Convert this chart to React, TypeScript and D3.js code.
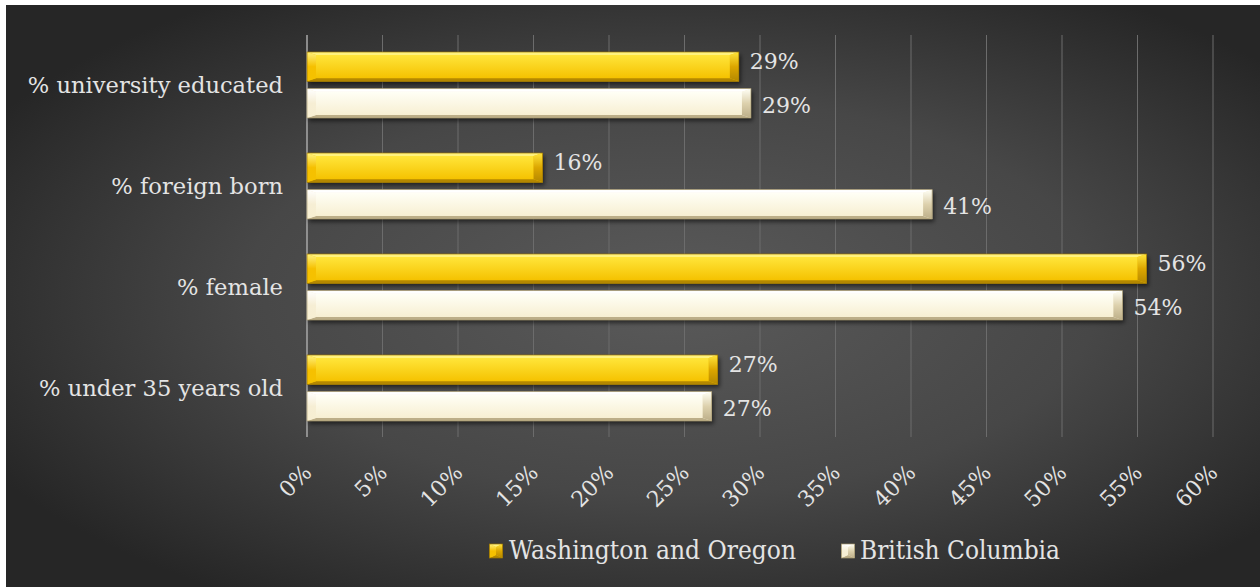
import React from "react";
import * as d3 from "d3";

const categories = ["% university educated", "% foreign born", "% female", "% under 35 years old"];
const waOr = [0.286, 0.156, 0.556, 0.272];
const bc = [0.294, 0.414, 0.54, 0.268];
const seriesNames = ["Washington and Oregon", "British Columbia"];
const xTicks = [0, 0.05, 0.1, 0.15, 0.2, 0.25, 0.3, 0.35, 0.4, 0.45, 0.5, 0.55, 0.6];

const W = 1260, H = 587;
const FONT = "'DejaVu Serif', Georgia, serif";

const palettes = [
  { top: "#fff27e", faceA: "#ffe53a", faceB: "#f5c200", bottom: "#b48800", left: "#f6c000", right: "#dca600", stroke: "#9c7600" },
  { top: "#ffffff", faceA: "#fffff6", faceB: "#f7efd2", bottom: "#bcae88", left: "#f6eed4", right: "#ddd1ad", stroke: "#a89a70" },
];

function BevelBar({ x0, x1, y0, y1, p, id, shadow = true }: any) {
  const bs = Math.min(9, (x1 - x0) / 2), bt = 3;
  const top = `M${x0},${y0}L${x1},${y0}L${x1 - bs},${y0 + bt}L${x0 + bs},${y0 + bt}Z`;
  const bot = `M${x0},${y1}L${x1},${y1}L${x1 - bs},${y1 - bt}L${x0 + bs},${y1 - bt}Z`;
  const left = `M${x0},${y0}L${x0 + bs},${y0 + bt}L${x0 + bs},${y1 - bt}L${x0},${y1}Z`;
  const right = `M${x1},${y0}L${x1 - bs},${y0 + bt}L${x1 - bs},${y1 - bt}L${x1},${y1}Z`;
  return (
    <g>
      <rect x={x0} y={y0} width={x1 - x0} height={y1 - y0} fill={p.faceB} filter={shadow ? "url(#shadow)" : undefined} />
      <rect x={x0 + bs} y={y0 + bt} width={x1 - x0 - 2 * bs} height={y1 - y0 - 2 * bt} fill={`url(#face${id})`} />
      <path d={top} fill={p.top} />
      <path d={bot} fill={p.bottom} />
      <path d={left} fill={`url(#left${id})`} />
      <path d={right} fill={`url(#right${id})`} />
      <rect x={x0} y={y0} width={x1 - x0} height={y1 - y0} fill="none" stroke={p.stroke} strokeWidth={0.7} />
    </g>
  );
}

export default function App() {
  const x = d3.scaleLinear().domain([0, 0.6]).range([307, 1213]);
  const y = d3.scaleBand<string>().domain(categories).range([34.5, 438.5]).padding(0);
  const inner = d3.scaleBand<number>().domain([0, 1]).range([-33, 33]).paddingInner(0.2);
  const fmt = d3.format(".0%");
  const series = [waOr, bc];
  const labelShift = [-5, 2];
  const plotTop = 35, plotBottom = 437;

  return (
    <div>
      <style>{"body{margin:0;}"}</style>
      <svg width={W} height={H} style={{ display: "block" }}>
        <defs>
          <radialGradient id="bg" cx="0.53" cy="0.5" r="0.62">
            <stop offset="0" stopColor="#5a5a5a" />
            <stop offset="0.55" stopColor="#474747" />
            <stop offset="1" stopColor="#262626" />
          </radialGradient>
          {palettes.map((p, i) => (
            <React.Fragment key={i}>
              <linearGradient id={`face${i}`} x1="0" y1="0" x2="0" y2="1">
                <stop offset="0" stopColor={p.faceA} />
                <stop offset="1" stopColor={p.faceB} />
              </linearGradient>
              <linearGradient id={`left${i}`} x1="0" y1="0" x2="0" y2="1">
                <stop offset="0" stopColor={p.top} />
                <stop offset="0.5" stopColor={p.left} />
                <stop offset="1" stopColor={p.faceB} />
              </linearGradient>
              <linearGradient id={`right${i}`} x1="0" y1="0" x2="0" y2="1">
                <stop offset="0" stopColor={p.faceA} />
                <stop offset="0.5" stopColor={p.right} />
                <stop offset="1" stopColor={p.bottom} />
              </linearGradient>
            </React.Fragment>
          ))}
          <filter id="shadow" x="-5%" y="-30%" width="110%" height="180%">
            <feDropShadow dx="2" dy="3" stdDeviation="2" floodColor="#000" floodOpacity="0.55" />
          </filter>
        </defs>
        <rect x={0} y={0} width={W} height={H} fill="#ffffff" />
        <rect x={6} y={5} width={W - 6} height={H - 5} fill="url(#bg)" />

        {xTicks.map((t, i) => (
          <line key={i} x1={x(t)} x2={x(t)} y1={plotTop} y2={plotBottom} stroke="#6c6c6c" strokeWidth={1} />
        ))}
        <line x1={x(0)} x2={x(0)} y1={plotTop} y2={plotBottom} stroke="#b4b4b4" strokeWidth={1.2} />

        {categories.map((c, ci) => {
          const cy = (y(c) as number) + y.bandwidth() / 2;
          return (
            <g key={c}>
              <text x={283} y={cy} textAnchor="end" dominantBaseline="central" fill="#e4e4e4" fontFamily={FONT} fontSize={22.6}>
                {c}
              </text>
              {series.map((s, si) => {
                const y0 = cy + (inner(si) as number);
                const y1 = y0 + inner.bandwidth();
                return (
                  <g key={si}>
                    <BevelBar x0={x(0)} x1={x(s[ci])} y0={y0} y1={y1} p={palettes[si]} id={si} />
                    <text x={x(s[ci]) + 11} y={(y0 + y1) / 2 + labelShift[si]} dominantBaseline="central" fill="#e4e4e4" fontFamily={FONT} fontSize={22}>
                      {fmt(s[ci])}
                    </text>
                  </g>
                );
              })}
            </g>
          );
        })}

        {xTicks.map((t, i) => (
          <text key={i} transform={`translate(${x(t) + 6},${474}) rotate(-45)`} textAnchor="end" fill="#e4e4e4" fontFamily={FONT} fontSize={22}>
            {fmt(t)}
          </text>
        ))}

        {/* legend */}
        {[
          { mx: 489.5, tx: 509, tw: 287 },
          { mx: 841.5, tx: 860, tw: 200 },
        ].map((l, i) => {
          const p = palettes[i];
          return (
            <g key={i}>
              <BevelBar x0={l.mx} x1={l.mx + 13} y0={544} y1={558} p={p} id={i} shadow={false} />
              <text x={l.tx} y={559} fill="#e4e4e4" fontFamily={FONT} fontSize={26} textLength={l.tw} lengthAdjust="spacingAndGlyphs">
                {seriesNames[i]}
              </text>
            </g>
          );
        })}
      </svg>
    </div>
  );
}
